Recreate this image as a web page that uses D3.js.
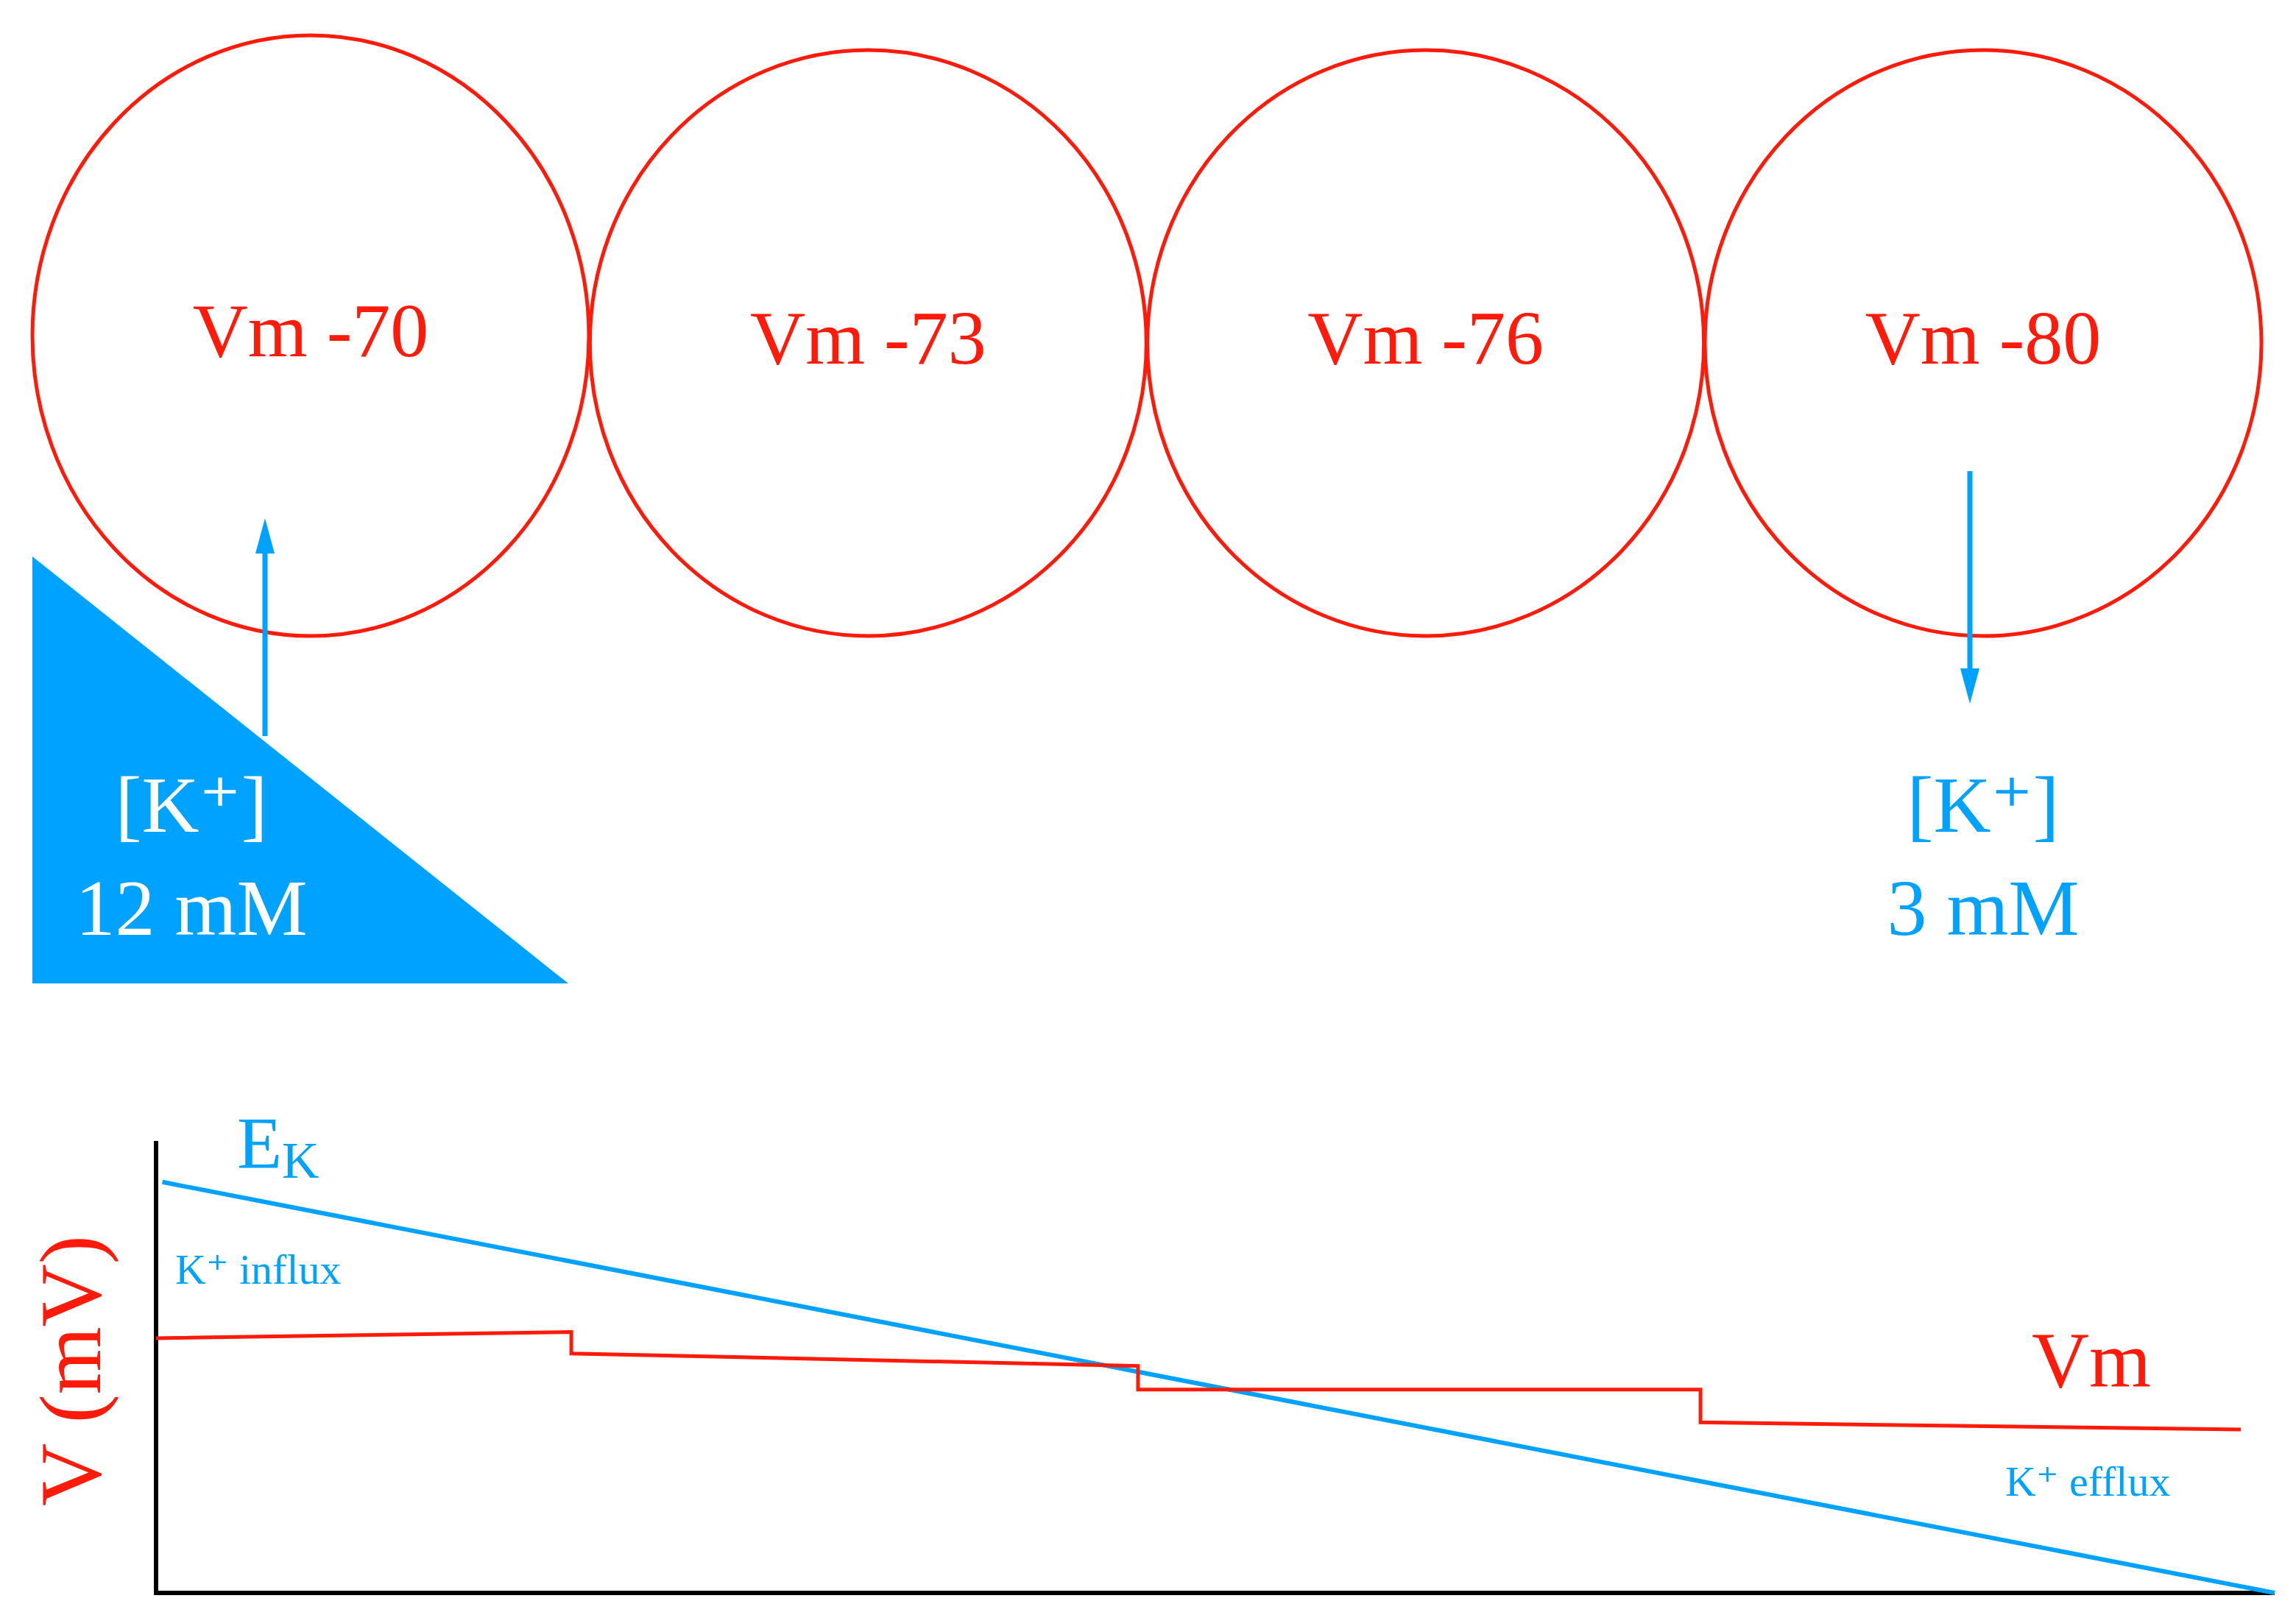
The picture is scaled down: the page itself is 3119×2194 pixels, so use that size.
<!DOCTYPE html>
<html>
<head>
<meta charset="utf-8">
<script src="https://cdn.jsdelivr.net/npm/d3@7"></script>
<style>
  body { margin: 0; background: #fff; }
  text { font-family: "Liberation Serif", "DejaVu Serif", serif; }
</style>
</head>
<body>
<div id="chart"></div>
<script>
// cell membrane potentials (mV)
const cellVm = [-70, -73, -76, -80];

// E_K line (time units 0..100, mV)
const ekTime = [0.3, 100];
const ekValues = [-60, -100];

// Vm step trace
const vmTime = [0, 19.6, 19.6, 46.35, 46.35, 72.9, 72.9, 98.4];
const vmValues = [-75.2, -74.6, -76.7, -77.9, -80.2, -80.2, -83.4, -84.1];

const red = "#ff1a0a";
const blue = "#00a2ff";

const W = 3119, H = 2194;
const svg = d3.select("#chart").append("svg")
    .attr("width", W).attr("height", H);

// ---- cells ----
const cellX = d3.scalePoint().domain(cellVm).range([422, 2694]);
const cells = svg.selectAll("g.cell").data(cellVm).enter().append("g")
    .attr("class", "cell")
    .attr("transform", (d, i) => `translate(${cellX(d)},${i === 0 ? 456 : 466})`);

cells.append("ellipse")
    .attr("rx", 378)
    .attr("ry", (d, i) => i === 0 ? 408 : 398)
    .attr("fill", "none").attr("stroke", red).attr("stroke-width", 5);

cells.append("text")
    .attr("y", 28)
    .attr("text-anchor", "middle")
    .attr("font-size", 104)
    .attr("fill", red)
    .text(d => `Vm ${d}`);

// ---- high K+ triangle ----
svg.append("path")
    .attr("d", "M44,756 L44,1336 L772,1336 Z")
    .attr("fill", blue);

// influx arrow (up)
svg.append("line")
    .attr("x1", 360).attr("y1", 1000).attr("x2", 360).attr("y2", 750)
    .attr("stroke", blue).attr("stroke-width", 7);
svg.append("path").attr("d", "M347,752 L360,704 L373,752 Z").attr("fill", blue);

// efflux arrow (down)
svg.append("line")
    .attr("x1", 2676).attr("y1", 640).attr("x2", 2676).attr("y2", 910)
    .attr("stroke", blue).attr("stroke-width", 7);
svg.append("path").attr("d", "M2663,908 L2676,956 L2689,908 Z").attr("fill", blue);

// concentration labels
const conc = [
  { x: 260, lines: ["[K⁺]", "12 mM"], fill: "#fff" },
  { x: 2694, lines: ["[K⁺]", "3 mM"], fill: blue }
];
conc.forEach(c => {
  c.lines.forEach((l, i) => {
    svg.append("text")
      .attr("x", c.x).attr("y", 1130 + i * 140)
      .attr("text-anchor", "middle")
      .attr("font-size", 108)
      .attr("fill", c.fill)
      .text(l);
  });
});

// ---- graph ----
const x = d3.scaleLinear().domain([0, 100]).range([212, 3090]);
const y = d3.scaleLinear().domain([-100, -56]).range([2164, 1550]);

svg.append("line").attr("x1", 212).attr("x2", 212)
    .attr("y1", y(-56)).attr("y2", y(-100))
    .attr("stroke", "#000").attr("stroke-width", 6);
svg.append("line").attr("x1", 209).attr("x2", x(100))
    .attr("y1", y(-100)).attr("y2", y(-100))
    .attr("stroke", "#000").attr("stroke-width", 6);

const line = d3.line().x(d => x(d[0])).y(d => y(d[1]));

svg.append("path")
    .datum(d3.zip(ekTime, ekValues))
    .attr("d", line)
    .attr("fill", "none").attr("stroke", blue).attr("stroke-width", 6);

svg.append("path")
    .datum(d3.zip(vmTime, vmValues))
    .attr("d", line)
    .attr("fill", "none").attr("stroke", red).attr("stroke-width", 5);

// labels
const ek = svg.append("text").attr("x", 322).attr("y", 1586)
    .attr("font-size", 100).attr("fill", blue);
ek.append("tspan").text("E");
ek.append("tspan").attr("font-size", 70).attr("dy", 14).text("K");

svg.append("text").attr("x", 238).attr("y", 1744)
    .attr("font-size", 58).attr("fill", blue).text("K⁺ influx");
svg.append("text").attr("x", 2724).attr("y", 2032)
    .attr("font-size", 58).attr("fill", blue).text("K⁺ efflux");
svg.append("text").attr("x", 2760).attr("y", 1884)
    .attr("font-size", 108).attr("fill", red).text("Vm");

svg.append("text")
    .attr("transform", "translate(136,1862) rotate(-90)")
    .attr("text-anchor", "middle")
    .attr("font-size", 118).attr("fill", red)
    .text("V (mV)");
</script>
</body>
</html>
